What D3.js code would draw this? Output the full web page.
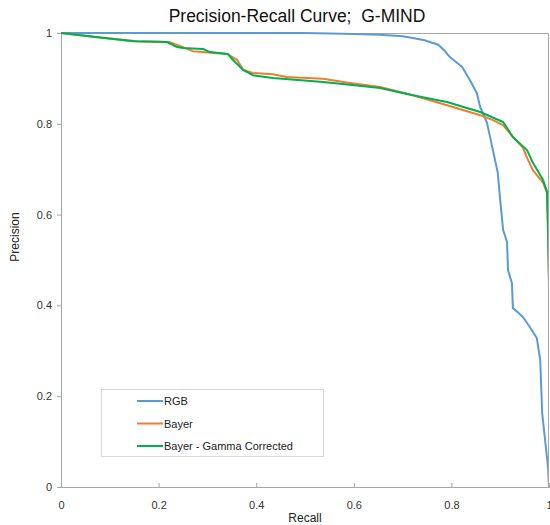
<!DOCTYPE html>
<html>
<head>
<meta charset="utf-8">
<script src="https://cdn.jsdelivr.net/npm/d3@7"></script>
<style>
  body { margin: 0; background: #fff; }
  svg { font-family: "Liberation Sans", Arial, sans-serif; }
</style>
</head>
<body>
<div id="chart"></div>
<script>
// data
const seriesNames = ['RGB', 'Bayer', 'Bayer - Gamma Corrected'];
const seriesColors = ['#5B9BD5', '#ED7D31', '#00B050'];

const rgbRecall    = [0, 0.5, 0.6, 0.654, 0.7, 0.721, 0.745, 0.773, 0.785, 0.797, 0.822, 0.838, 0.852, 0.859, 0.873, 0.885, 0.895, 0.900, 0.906, 0.914, 0.916, 0.924, 0.926, 0.936, 0.947, 0.961, 0.975, 0.982, 0.986, 0.998, 1.0];
const rgbPrecision = [1, 1, 0.998, 0.996, 0.993, 0.989, 0.984, 0.974, 0.962, 0.947, 0.925, 0.896, 0.868, 0.837, 0.802, 0.742, 0.692, 0.632, 0.566, 0.540, 0.478, 0.449, 0.394, 0.385, 0.374, 0.352, 0.328, 0.280, 0.163, 0.044, 0];

const bayerRecall    = [0, 0.08, 0.156, 0.223, 0.25, 0.27, 0.34, 0.361, 0.373, 0.393, 0.434, 0.463, 0.537, 0.592, 0.654, 0.721, 0.791, 0.859, 0.885, 0.906, 0.926, 0.947, 0.955, 0.967, 0.988, 0.996, 0.998, 1.0];
const bayerPrecision = [1, 0.99, 0.982, 0.980, 0.969, 0.960, 0.954, 0.941, 0.919, 0.912, 0.909, 0.903, 0.899, 0.890, 0.881, 0.863, 0.841, 0.819, 0.808, 0.797, 0.771, 0.747, 0.725, 0.698, 0.670, 0.648, 0.566, 0.45];

const gammaRecall    = [0, 0.08, 0.148, 0.217, 0.238, 0.25, 0.291, 0.305, 0.342, 0.352, 0.373, 0.393, 0.434, 0.537, 0.592, 0.654, 0.721, 0.791, 0.859, 0.906, 0.926, 0.955, 0.967, 0.988, 0.996, 0.998, 1.0];
const gammaPrecision = [1, 0.99, 0.982, 0.980, 0.969, 0.967, 0.965, 0.958, 0.954, 0.941, 0.919, 0.907, 0.901, 0.892, 0.886, 0.879, 0.863, 0.848, 0.826, 0.804, 0.771, 0.742, 0.714, 0.676, 0.650, 0.566, 0.45];

const xTicks = [0, 0.2, 0.4, 0.6, 0.8, 1];
const yTicks = [0, 0.2, 0.4, 0.6, 0.8, 1];

const width = 550, height = 525;
const margin = {top: 33, right: 1, bottom: 38, left: 61};
const innerW = width - margin.left - margin.right;
const innerH = height - margin.top - margin.bottom;

const svg = d3.select('#chart').append('svg')
    .attr('width', width)
    .attr('height', height);

const g = svg.append('g')
    .attr('transform', `translate(${margin.left},${margin.top})`);

const x = d3.scaleLinear().domain([0, 1]).range([0, innerW]);
const y = d3.scaleLinear().domain([0, 1]).range([innerH, 0]);

const axisColor = '#a6a6a6';

// frame (top and right)
g.append('path')
    .attr('d', `M0,0.5H${innerW - 0.5}V${innerH}`)
    .attr('fill', 'none')
    .attr('stroke', axisColor);

// x axis, ticks pointing up
const xAxis = g.append('g')
    .attr('transform', `translate(0,${innerH})`)
    .call(d3.axisBottom(x).tickValues(xTicks).tickSize(-4).tickPadding(14).tickFormat(d3.format('')));
xAxis.select('.domain').attr('stroke', axisColor);
xAxis.selectAll('.tick line').attr('stroke', axisColor);
xAxis.selectAll('.tick text').attr('font-size', 11).attr('fill', '#333');

// y axis
const yAxis = g.append('g')
    .call(d3.axisLeft(y).tickValues(yTicks).tickSize(4).tickPadding(5).tickFormat(d3.format('')));
yAxis.select('.domain').attr('stroke', axisColor);
yAxis.selectAll('.tick line').attr('stroke', axisColor);
yAxis.selectAll('.tick text').attr('font-size', 11).attr('fill', '#333');

// curves
const series = [
    {recall: rgbRecall, precision: rgbPrecision},
    {recall: bayerRecall, precision: bayerPrecision},
    {recall: gammaRecall, precision: gammaPrecision}
];

g.append('clipPath').attr('id', 'clip')
    .append('rect').attr('x', -2).attr('y', -2).attr('width', innerW + 1).attr('height', innerH + 2);

const line = d3.line().x(d => x(d[0])).y(d => y(d[1]));

series.forEach((s, i) => {
    const pts = s.recall.map((r, j) => [r, s.precision[j]]);
    g.append('path')
        .datum(pts)
        .attr('clip-path', 'url(#clip)')
        .attr('fill', 'none')
        .attr('stroke', seriesColors[i])
        .attr('stroke-width', 2)
        .attr('stroke-linejoin', 'round')
        .attr('d', line);
});

// title and axis labels
svg.append('text')
    .attr('x', 297).attr('y', 22)
    .attr('text-anchor', 'middle')
    .attr('font-size', 17.5)
    .style('white-space', 'pre')
    .attr('fill', '#111')
    .text('Precision-Recall Curve;  G-MIND');

svg.append('text')
    .attr('x', 305).attr('y', 522)
    .attr('text-anchor', 'middle')
    .attr('font-size', 12)
    .attr('fill', '#222')
    .text('Recall');

svg.append('text')
    .attr('transform', 'translate(19,237) rotate(-90)')
    .attr('text-anchor', 'middle')
    .attr('font-size', 12)
    .attr('fill', '#222')
    .text('Precision');

// legend
const legend = svg.append('g').attr('transform', 'translate(101,389)');
legend.append('rect')
    .attr('x', 0.5).attr('y', 0.5)
    .attr('width', 222).attr('height', 67)
    .attr('fill', '#fff')
    .attr('stroke', '#d9d9d9');

seriesNames.forEach((name, i) => {
    const row = legend.append('g').attr('transform', `translate(0,${12 + i * 22.5})`);
    row.append('line')
        .attr('x1', 36).attr('x2', 62)
        .attr('stroke', seriesColors[i])
        .attr('stroke-width', 2);
    row.append('text')
        .attr('x', 63).attr('y', 4)
        .attr('font-size', 11)
        .attr('fill', '#222')
        .text(name);
});
</script>
</body>
</html>
